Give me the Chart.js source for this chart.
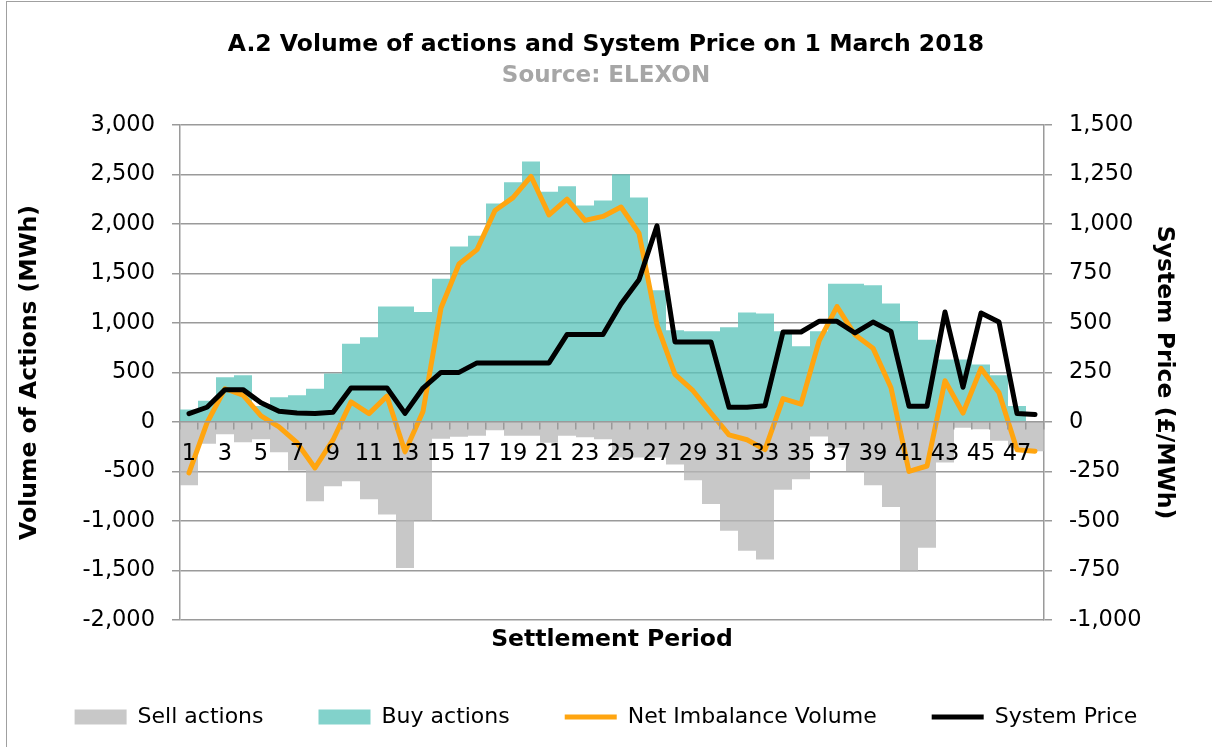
<!DOCTYPE html>
<html>
<head>
<meta charset="utf-8">
<title>A.2 Volume of actions and System Price on 1 March 2018</title>
<script src="https://cdn.jsdelivr.net/npm/chart.js@4.4.1/dist/chart.umd.min.js"></script>
<style>
  html, body { margin: 0; padding: 0; background: #fff; overflow: hidden; }
  #wrap { position: relative; width: 1212px; height: 747px; }
  #wrap canvas { position: absolute; left: 0; top: 0; }
  #frame { position: absolute; left: 6px; top: 1px; width: 1240px; height: 790px; border: 1px solid #a0a0a0; pointer-events: none; }
</style>
</head>
<body>
<div id="wrap">
  <canvas id="chart" width="1212" height="747"></canvas>
  <div id="frame"></div>
</div>
<script>
// settlement periods of the day
const periods = ['1', '2', '3', '4', '5', '6', '7', '8', '9', '10', '11', '12',
  '13', '14', '15', '16', '17', '18', '19', '20', '21', '22', '23', '24',
  '25', '26', '27', '28', '29', '30', '31', '32', '33', '34', '35', '36',
  '37', '38', '39', '40', '41', '42', '43', '44', '45', '46', '47', '48'];

// MWh
const sellActions = [-640, -220, -125, -205, -175, -305, -490, -800, -650, -600, -780, -935,
  -1475, -995, -170, -150, -140, -85, -140, -140, -210, -140, -155, -175,
  -360, -360, -360, -430, -590, -830, -1100, -1300, -1390, -685, -580, -148,
  -260, -495, -640, -860, -1510, -1270, -410, -60, -75, -190, -260, -295];

const buyActions = [125, 215, 450, 470, 160, 250, 270, 335, 490, 790, 855, 1165,
  1165, 1110, 1445, 1770, 1880, 2205, 2420, 2630, 2325, 2380, 2185, 2235,
  2500, 2265, 1330, 925, 915, 915, 955, 1105, 1095, 915, 765, 915,
  1395, 1395, 1380, 1195, 1020, 830, 630, 630, 580, 470, 160, 0];

const netImbalance = [-515, -10, 335, 270, 62, -50, -210, -465, -182, 202, 84, 260,
  -302, 106, 1150, 1595, 1740, 2135, 2265, 2480, 2090, 2250, 2035, 2075,
  2170, 1905, 980, 480, 315, 90, -130, -180, -280, 235, 180, 815,
  1165, 880, 745, 345, -500, -445, 415, 90, 540, 295, -280, -295];

// £/MWh
const systemPrice = [42, 74, 163, 163, 97, 54, 45, 42, 49, 171, 171, 171,
  43, 171, 250, 250, 298, 298, 298, 298, 298, 441, 441, 441,
  595, 718, 990, 404, 404, 404, 74, 74, 82, 454, 454, 508,
  508, 449, 504, 457, 79, 79, 555, 175, 550, 504, 42, 37];

Chart.defaults.font.family = "'DejaVu Sans', Verdana, sans-serif";
Chart.defaults.color = '#000';

const fmt = v => Number(v).toLocaleString('en-US');
const gridGrey = '#9a9a9a';

new Chart(document.getElementById('chart'), {
  data: {
    labels: periods,
    datasets: [
      {
        type: 'bar', label: 'Sell actions', data: sellActions,
        backgroundColor: 'rgba(183,183,183,0.76)', borderWidth: 0,
        barPercentage: 1, categoryPercentage: 1, inflateAmount: 0,
        pointStyle: 'rect', order: 3, xAxisID: 'x', yAxisID: 'y'
      },
      {
        type: 'bar', label: 'Buy actions', data: buyActions,
        backgroundColor: 'rgba(91,196,187,0.76)', borderWidth: 0,
        barPercentage: 1, categoryPercentage: 1, inflateAmount: 0,
        pointStyle: 'rect', order: 2, xAxisID: 'x', yAxisID: 'y'
      },
      {
        type: 'line', label: 'Net Imbalance Volume', data: netImbalance,
        borderColor: '#FFA510', backgroundColor: '#FFA510', borderWidth: 5,
        pointRadius: 0, tension: 0, borderJoinStyle: 'round', borderCapStyle: 'round',
        pointStyle: 'line', order: 1, xAxisID: 'x', yAxisID: 'y'
      },
      {
        type: 'line', label: 'System Price', data: systemPrice,
        borderColor: '#000', backgroundColor: '#000', borderWidth: 5,
        pointRadius: 0, tension: 0, borderJoinStyle: 'round', borderCapStyle: 'round',
        pointStyle: 'line', order: 0, xAxisID: 'x', yAxisID: 'y1'
      }
    ]
  },
  options: {
    responsive: false,
    animation: false,
    devicePixelRatio: 1,
    layout: { padding: { left: 0, right: 0, top: 0, bottom: 9 } },
    plugins: {
      title: {
        display: true,
        text: 'A.2 Volume of actions and System Price on 1 March 2018',
        font: { size: 23.5, weight: 'bold' }, color: '#000',
        padding: { top: 31, bottom: 0 }
      },
      subtitle: {
        display: true,
        text: 'Source: ELEXON',
        font: { size: 23, weight: 'bold' }, color: '#a6a6a6',
        padding: { top: 3, bottom: 35 }
      },
      legend: {
        position: 'bottom',
        labels: {
          usePointStyle: true, pointStyleWidth: 52, boxHeight: 15,
          padding: 55, font: { size: 22 }, color: '#000',
          sort: (a, b) => a.datasetIndex - b.datasetIndex
        }
      },
      tooltip: { enabled: false }
    },
    scales: {
      x: {
        type: 'category',
        position: { y: 0 },
        stacked: true,
        offset: true,
        grid: { display: true, offset: true, drawOnChartArea: false, drawTicks: true, tickLength: 7, color: gridGrey, lineWidth: 1.5, z: 1 },
        border: { display: true, color: gridGrey, width: 1.5, z: 1 },
        ticks: {
          z: 1,
          autoSkip: false, maxRotation: 0, minRotation: 0, padding: 12,
          font: { size: 22.5 }, color: '#000',
          callback: function (v, i) { return i % 2 === 0 ? this.getLabelForValue(v) : ''; }
        }
      },
      x2: {
        type: 'category',
        position: 'bottom',
        offset: true,
        grid: { display: false },
        border: { display: false },
        ticks: { display: false },
        title: {
          display: true, text: 'Settlement Period',
          font: { size: 23.5, weight: 'bold' }, color: '#000',
          padding: { top: 0, bottom: -3 }
        },
        afterFit: s => { s.height = 31; }
      },
      y: {
        position: 'left',
        stacked: true,
        min: -2000, max: 3000,
        ticks: { stepSize: 500, font: { size: 22.5 }, color: '#000', padding: 17, callback: fmt },
        grid: { color: gridGrey, lineWidth: 1.5, drawTicks: true, tickLength: 8 },
        border: { display: true, color: gridGrey, width: 1.5 },
        title: {
          display: true, text: 'Volume of Actions (MWh)',
          font: { size: 23.5, weight: 'bold' }, color: '#000',
          padding: { top: 16, bottom: 0 }
        },
        afterFit: s => { s.width = 180; }
      },
      y1: {
        position: 'right',
        min: -1000, max: 1500,
        ticks: { stepSize: 250, font: { size: 22.5 }, color: '#000', padding: 17, callback: fmt },
        grid: { drawOnChartArea: false, color: gridGrey, lineWidth: 1.5, drawTicks: true, tickLength: 8 },
        border: { display: true, color: gridGrey, width: 1.5 },
        title: {
          display: true, text: 'System Price (£/MWh)',
          font: { size: 23.5, weight: 'bold' }, color: '#000',
          padding: { top: 34, bottom: 0 }
        },
        afterFit: s => { s.width = 168; }
      }
    }
  }
});
</script>
</body>
</html>
